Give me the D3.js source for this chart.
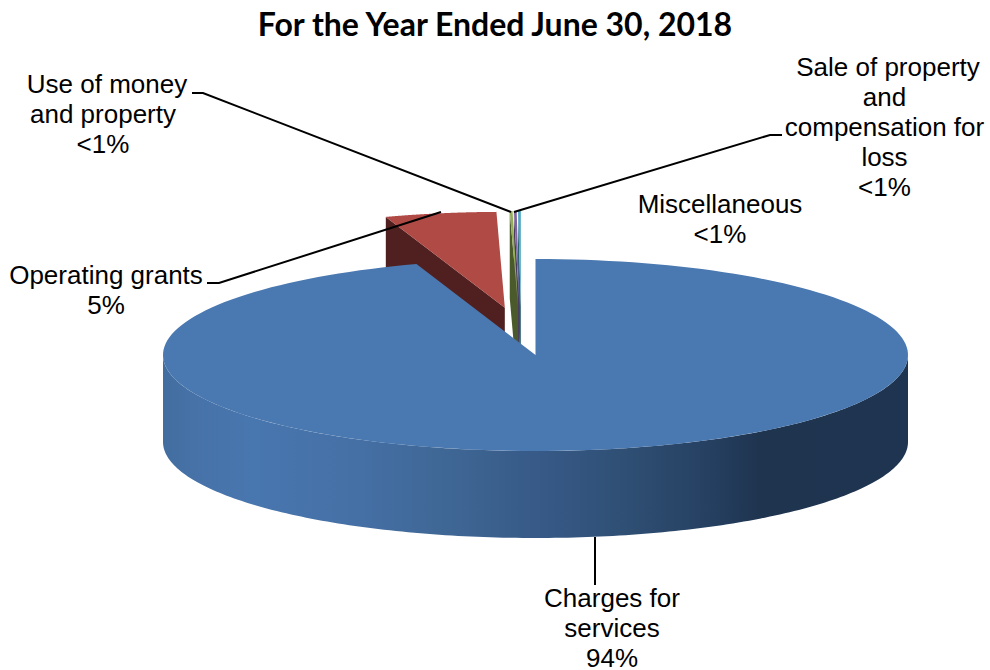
<!DOCTYPE html>
<html>
<head>
<meta charset="utf-8">
<script src="https://cdn.jsdelivr.net/npm/d3@7"></script>
<style>
  html, body { margin: 0; padding: 0; background: #fff; }
  svg { display: block; }
  .lbl { font-family: "Liberation Sans", Arial, sans-serif; font-size: 26px; fill: #000; text-anchor: middle; }
  .ttl { font-family: Lato, "Open Sans", sans-serif; font-weight: 700; font-size: 32px; fill: #000; text-anchor: middle; }
</style>
</head>
<body>
<svg id="chart" width="990" height="670"></svg>
<script>
// Revenue shares, in percent, clockwise from twelve o'clock.
const categories = ["Charges for services", "Operating grants", "Use of money and property", "Sale of property and compensation for loss", "Miscellaneous"];
const shares = [94.4, 5.21, 0.13, 0.13, 0.13];
const shareLabels = ["94%", "5%", "<1%", "<1%", "<1%"];
const topColors = ["#4a78b0", "#b04a45", "#93ad58", "#7f63a1", "#4fa9c4"];
const wallColors = ["#1e3450", "#502020", "#4a5a2a", "#4a3a60", "#2a6070"];
const titleText = "For the Year Ended June 30, 2018";

// Oblique view of the pie
const cx = 535.5, cy = 355, rx = 372.5, ry = 96, depth = 87;
const foreshorten = 0.077;  // slices at the far side of the disc look narrower
const explode = 0.5;        // pull-out of the detached slices, as a fraction of the radius
const explodeNarrow = 0.88; // sideways part of the pull-out shrinks toward the far side
const stripShift = -14;     // the three thin slices sit slightly left of twelve o'clock

const svg = d3.select("#chart");
const defs = svg.append("defs");

const slices = d3.pie().value(d => d).sort(null)(shares);
const sx = d3.scaleLinear().domain([-1, 1]).range([cx - rx, cx + rx]);
const sy = d3.scaleLinear().domain([-1, 1]).range([cy - ry, cy + ry]);

const warp = t => t - foreshorten * Math.sin(t);

// Screen position of a point on the disc, at disc angle phi and radius r.
function project(phi, r, slice, dz) {
  const off = slice.index === 0 ? 0 : explode;
  const mid = (slice.startAngle + slice.endAngle) / 2;
  const x = r * Math.sin(phi) + off * explodeNarrow * Math.sin(mid);
  const y = -r * Math.cos(phi) - off * Math.cos(mid);
  const shift = slice.index >= 2 ? stripShift : 0;
  return [sx(x) + shift, sy(y) + dz];
}

const path = d3.line();
const arcAngles = (a, b) => d3.range(0, 181).map(i => a + (b - a) * i / 180);

function topFace(s) {
  const apex = project(0, 0, s, 0);
  return path([apex, ...arcAngles(warp(s.startAngle), warp(s.endAngle)).map(t => project(t, 1, s, 0))]) + "Z";
}

// Wall under the slice's left-hand radial edge.
function radialWall(s) {
  const a = warp(s.startAngle);
  return path([
    project(0, 0, s, 0),
    project(a, 1, s, 0),
    project(a, 1, s, depth),
    project(0, 0, s, depth)
  ]) + "Z";
}

// Curved front wall of the main slice.
function rimWall(s) {
  const ang = arcAngles(Math.PI / 2, 3 * Math.PI / 2);
  const upper = ang.map(t => project(t, 1, s, 0));
  const lower = ang.slice().reverse().map(t => project(t, 1, s, depth));
  return path([...upper, ...lower]) + "Z";
}

const rimGrad = defs.append("linearGradient")
  .attr("id", "rimShade").attr("gradientUnits", "userSpaceOnUse")
  .attr("x1", cx - rx).attr("x2", cx + rx).attr("y1", 0).attr("y2", 0);
[[0, "#426d9f"], [0.04, "#4672a8"], [0.12, "#4876ae"], [0.26, "#4570a6"], [0.38, "#3f6795"],
 [0.5, "#375a88"], [0.62, "#2f4f74"], [0.74, "#253f60"], [0.8, "#1f344f"], [1, "#1e3450"]]
  .forEach(([o, c]) => rimGrad.append("stop").attr("offset", o).attr("stop-color", c));

const pieLayer = svg.append("g");

// Detached slices, back to front: thin strip from the right, then the red wedge.
const detached = [slices[4], slices[3], slices[2], slices[1]];
detached.forEach(s => {
  pieLayer.append("path").attr("d", radialWall(s)).attr("fill", wallColors[s.index]);
  pieLayer.append("path").attr("d", topFace(s)).attr("fill", topColors[s.index]);
});

// Main slice sits in front of everything else.
pieLayer.append("path").attr("d", rimWall(slices[0])).attr("fill", "url(#rimShade)");
pieLayer.append("path").attr("d", topFace(slices[0])).attr("fill", topColors[0]);

// Leader lines and text blocks for each category.
const leaders = [
  [[595, 537], [595, 585]],
  [[207, 283], [219, 283], [441, 212]],
  [[192, 93], [203, 93], [511, 212]],
  [[782, 135], [770, 135], [514, 212]]
];
svg.append("g").selectAll("path").data(leaders).join("path")
  .attr("d", d => path(d))
  .attr("fill", "none").attr("stroke", "#000").attr("stroke-width", 2);

// firstDx nudges the opening line of a block away from the block's centre line.
const labelBlocks = [
  { lines: ["Charges for", "services"], cat: 0, x: 612, y: 607, firstDx: 0 },
  { lines: ["Operating grants"], cat: 1, x: 106, y: 284, firstDx: 0 },
  { lines: ["Use of money", "and property"], cat: 2, x: 103, y: 93, firstDx: 4 },
  { lines: ["Sale of property", "and", "compensation for", "loss"], cat: 3, x: 884.5, y: 76, firstDx: 3.5 },
  { lines: ["Miscellaneous"], cat: 4, x: 720, y: 213, firstDx: 0 }
];
const lineStep = 30;
labelBlocks.forEach(b => {
  const t = svg.append("text").attr("class", "lbl").attr("aria-label", categories[b.cat]);
  [...b.lines, shareLabels[b.cat]].forEach((ln, i) => {
    t.append("tspan").attr("x", b.x + (i === 0 ? b.firstDx : 0)).attr("y", b.y + i * lineStep).text(ln);
  });
});

svg.append("text").attr("class", "ttl").attr("x", 495).attr("y", 36).text(titleText);
</script>
</body>
</html>
